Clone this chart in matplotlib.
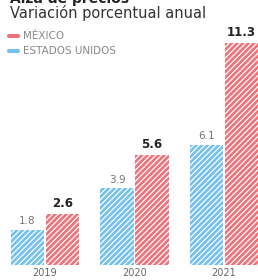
import matplotlib
matplotlib.use("Agg")
import matplotlib.pyplot as plt
import numpy as np

plt.rcParams["hatch.color"] = "white"
plt.rcParams["hatch.linewidth"] = 0.9

anos = ["2019", "2020", "2021"]
mexico = [2.6, 5.6, 11.3]
eeuu = [1.8, 3.9, 6.1]

ROJO = "#ee727a"
AZUL = "#74c0ee"

fig = plt.figure(figsize=(2.58, 2.80), dpi=100)
ax = fig.add_axes([0, 15 / 280, 1, 265 / 280])

x = np.arange(len(anos))
w = 0.37
b1 = ax.bar(x - 0.195, eeuu, w, color=AZUL, hatch="//////", linewidth=0)
b2 = ax.bar(x + 0.195, mexico, w, color=ROJO, hatch="//////", linewidth=0)

for r, v in zip(b1, eeuu):
    ax.text(r.get_x() + r.get_width() / 2, v + 0.2, f"{v:.1f}", ha="center",
            va="bottom", fontsize=7.5, color="#777777")
for r, v in zip(b2, mexico):
    ax.text(r.get_x() + r.get_width() / 2, v + 0.2, f"{v:.1f}", ha="center",
            va="bottom", fontsize=8.5, color="#222222", fontweight="bold")

ax.set_xlim(-0.503, 2.38)
ax.set_ylim(0, 13.5)
ax.axis("off")

for xi, a in zip(x, anos):
    fig.text((45 + 89.5 * xi) / 258, 7 / 280, a, ha="center", va="center",
             fontsize=7, color="#666666")

# titulo y leyenda
fig.text(0.04, 1.0 + 1 / 280, "Alza de precios", ha="left", va="center",
         fontsize=10, fontweight="bold", color="#222222")
fig.text(0.04, 1 - 13 / 280, "Variación porcentual anual", ha="left",
         va="center", fontsize=10.5, color="#333333")
for yy, col, lab in [(36, ROJO, "MÉXICO"), (51, AZUL, "ESTADOS UNIDOS")]:
    fig.add_artist(plt.Line2D([9 / 258, 18 / 258], [1 - yy / 280] * 2,
                              color=col, lw=3, solid_capstyle="round"))
    fig.text(23 / 258, 1 - yy / 280, lab, ha="left", va="center",
             fontsize=7.5, color="#888888", fontstretch="expanded")

fig.savefig("out.png", dpi=100)
